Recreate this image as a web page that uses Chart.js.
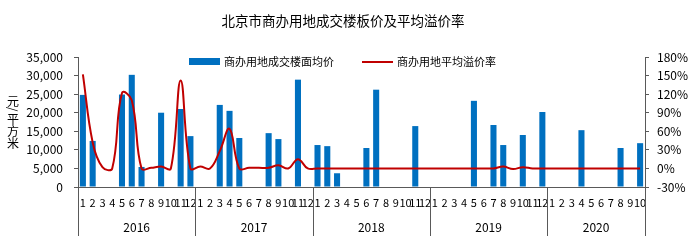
<!DOCTYPE html>
<html>
<head>
<meta charset="utf-8">
<script src="https://cdn.jsdelivr.net/npm/chart.js@4.4.1/dist/chart.umd.min.js"></script>
<style>
    html, body { margin: 0; padding: 0; background: #fff; }
    #wrap { width: 695px; height: 243px; }
</style>
</head>
<body>
<div id="wrap"><canvas id="mainChart" width="695" height="243"></canvas></div>
<script>
// ========== 数据 ==========
const chartTitle = '北京市商办用地成交楼板价及平均溢价率';
const barLabel = '商办用地成交楼面均价';
const lineLabel = '商办用地平均溢价率';
const yTitle = '元/平方米';

const years = ['2016', '2017', '2018', '2019', '2020'];
const monthLabels = [
    '1', '2', '3', '4', '5', '6', '7', '8', '9', '10', '11', '12',
    '1', '2', '3', '4', '5', '6', '7', '8', '9', '10', '11', '12',
    '1', '2', '3', '4', '5', '6', '7', '8', '9', '10', '11', '12',
    '1', '2', '3', '4', '5', '6', '7', '8', '9', '10', '11', '12',
    '1', '2', '3', '4', '5', '6', '7', '8', '9', '10'
];
const monthsPerYear = [12, 12, 12, 12, 10];

// 楼面均价 (元/平方米), 无成交为 null
const avgPrice = [
    24800, 12400, null, null, 24900, 30200, 5400, null, 20000, null, 21000, 13700,
    null, null, 22100, 20500, 13200, null, null, 14500, 12900, null, 28900, null,
    11300, 11000, 3700, null, null, 10500, 26200, null, null, null, 16400, null,
    null, null, null, null, 23200, null, 16700, 11300, null, 14000, null, 20200,
    null, null, null, 15300, null, null, null, 10500, null, 11800
];

// 平均溢价率 (%)
const premiumRate = [
    152, 42, 2, 0, 122, 110, 0, 1, 3, 0, 142, 0,
    3, 0, 28, 64, 0, 1, 1, 1, 5, 0, 15, 0,
    0, 0, 0, 0, 0, 0, 0, 0, 0, 0, 0, 0,
    0, 0, 0, 0, 0, 0, 0, 3, -1, 2, 0, 0,
    0, 0, 0, 0, 0, 0, 0, 0, 0, 0
];

const leftTicks = { min: 0, max: 35000, step: 5000 };
const rightTicks = { min: -30, max: 180, step: 30 };

const BLUE = '#0070C0';
const RED = '#C00000';
const AXIS = '#595959';
const FONT = "'Noto Sans CJK SC', 'Noto Sans', sans-serif";

// ========== 标题/图例/年份 插件 ==========
const decorPlugin = {
    id: 'decor',
    afterDraw(chart) {
        const ctx = chart.ctx;
        const area = chart.chartArea;
        const x = chart.scales.x;

        ctx.save();

        // 标题
        ctx.fillStyle = '#000';
        ctx.font = '13.5px ' + FONT;
        ctx.textAlign = 'center';
        ctx.textBaseline = 'middle';
        ctx.fillText(chartTitle, 343, 21);

        // 图例
        ctx.font = '11px ' + FONT;
        ctx.textAlign = 'left';
        ctx.fillStyle = BLUE;
        ctx.fillRect(189, 58, 31, 7);
        ctx.fillStyle = '#000';
        ctx.fillText(barLabel, 224, 62);
        ctx.strokeStyle = RED;
        ctx.lineWidth = 2;
        ctx.beginPath();
        ctx.moveTo(362, 62);
        ctx.lineTo(393, 62);
        ctx.stroke();
        ctx.fillText(lineLabel, 397, 62);

        // 左轴标题 (竖排, 汉字直立)
        ctx.font = '12px ' + FONT;
        ctx.textAlign = 'center';
        const chars = Array.from(yTitle);
        const ys = [101, 109, 119, 131, 143];
        for (let i = 0; i < chars.length; i++) {
            if (chars[i] === '/') {
                ctx.save();
                ctx.translate(13, ys[i]);
                ctx.rotate(Math.PI / 2);
                ctx.fillText(chars[i], 0, 0);
                ctx.restore();
            } else {
                ctx.fillText(chars[i], 13, ys[i]);
            }
        }

        // 年份分隔线和标签
        const bounds = [area.left];
        let idx = 0;
        for (let i = 0; i < monthsPerYear.length; i++) {
            idx += monthsPerYear[i];
            if (idx < monthLabels.length) {
                bounds.push((x.getPixelForValue(idx - 1) + x.getPixelForValue(idx)) / 2);
            } else {
                bounds.push(area.right);
            }
        }
        ctx.strokeStyle = AXIS;
        ctx.lineWidth = 1;
        for (let i = 0; i < bounds.length; i++) {
            const bx = Math.round(bounds[i]) + 0.5;
            ctx.beginPath();
            ctx.moveTo(bx, area.bottom);
            ctx.lineTo(bx, 236);
            ctx.stroke();
        }
        ctx.fillStyle = '#000';
        ctx.font = '12px ' + FONT;
        ctx.textAlign = 'center';
        for (let i = 0; i < years.length; i++) {
            ctx.fillText(years[i], (bounds[i] + bounds[i + 1]) / 2, 227);
        }

        ctx.restore();
    }
};

// ========== 图表 ==========
const ctx = document.getElementById('mainChart');
new Chart(ctx, {
    type: 'bar',
    data: {
        labels: monthLabels,
        datasets: [
            {
                type: 'bar',
                label: barLabel,
                data: avgPrice,
                backgroundColor: BLUE,
                barPercentage: 0.62,
                categoryPercentage: 1,
                yAxisID: 'y',
                order: 2
            },
            {
                type: 'line',
                label: lineLabel,
                data: premiumRate,
                borderColor: RED,
                borderWidth: 2,
                pointRadius: 0,
                tension: 0.4,
                fill: false,
                yAxisID: 'y1',
                order: 1
            }
        ]
    },
    options: {
        responsive: false,
        animation: false,
        layout: { padding: { top: 57, left: 0, right: 0, bottom: 0 } },
        plugins: {
            legend: { display: false },
            title: { display: false },
            tooltip: { enabled: false }
        },
        scales: {
            x: {
                grid: { display: false, drawTicks: false },
                border: { display: true, color: AXIS },
                ticks: {
                    autoSkip: false,
                    maxRotation: 0,
                    minRotation: 0,
                    padding: 9,
                    color: '#000',
                    font: { size: 11, family: FONT }
                },
                afterFit(scale) { scale.height = 56; }
            },
            y: {
                position: 'left',
                min: leftTicks.min,
                max: leftTicks.max,
                grid: { drawOnChartArea: false, drawTicks: true, tickLength: 4, color: AXIS },
                border: { display: true, color: AXIS },
                ticks: {
                    stepSize: leftTicks.step,
                    padding: 11,
                    color: '#000',
                    font: { size: 12, family: FONT }
                },
                afterFit(scale) { scale.width = 78; }
            },
            y1: {
                position: 'right',
                min: rightTicks.min,
                max: rightTicks.max,
                grid: { drawOnChartArea: false, drawTicks: true, tickLength: 4, color: AXIS },
                border: { display: true, color: AXIS },
                ticks: {
                    stepSize: rightTicks.step,
                    padding: 8,
                    color: '#000',
                    font: { size: 12, family: FONT },
                    callback: function (v) { return v + '%'; }
                },
                afterFit(scale) { scale.width = 50; }
            }
        }
    },
    plugins: [decorPlugin]
});
</script>
</body>
</html>
